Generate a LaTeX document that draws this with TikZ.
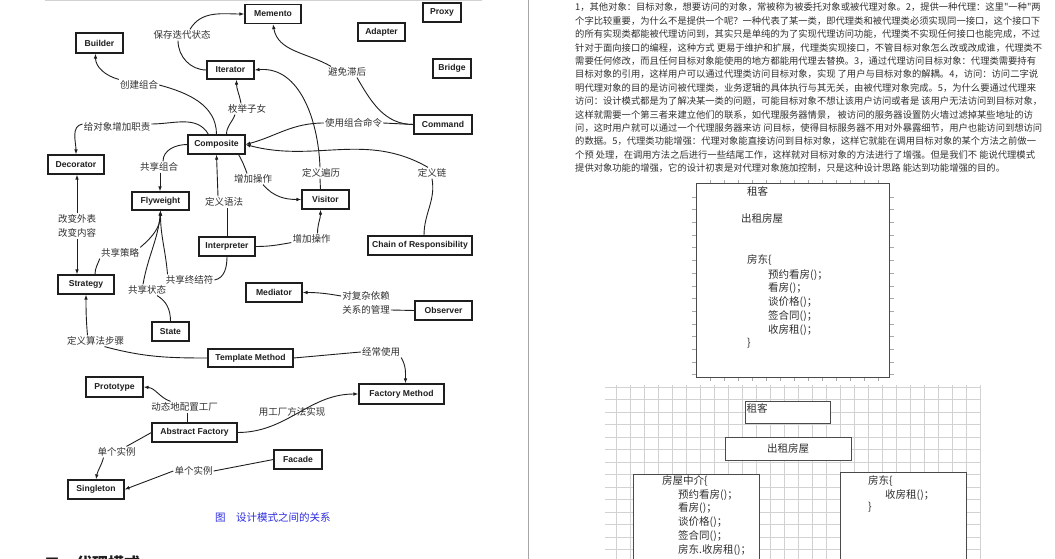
\documentclass[tikz,border=0pt]{standalone}
\usepackage{fontspec}
\setmainfont{Liberation Sans}
\newfontfamily\cjk{Noto Sans CJK SC}
\newfontfamily\boxfont{Liberation Sans}
\usetikzlibrary{arrows.meta}
\definecolor{cink}{HTML}{1E1E1E}
\definecolor{ctext}{HTML}{303030}
\definecolor{cgrid}{HTML}{D2D2D2}
\definecolor{cframe}{HTML}{4A4A4A}
\definecolor{ccap}{HTML}{2B2BE0}
\tikzset{
  every picture/.style={x=1pt, y=1pt},
  pat/.style={draw=cink, line width=1.1pt, fill=white, font=\boxfont\bfseries\fontsize{8.6}{10}\selectfont, text=cink, inner sep=0pt, minimum height=19pt, minimum width=#1},
  pat/.default=56pt,
  lbl/.style={font=\cjk\fontsize{9.5}{11}\selectfont, text=ctext, inner sep=1pt},
  rel/.style={draw=cink, line width=0.9pt},
  arr/.style={rel, -{Latex[length=5pt,width=3.6pt]}},
  para/.style={font=\cjk\fontsize{9.3}{11}\selectfont, text=ctext, anchor=west, inner sep=0pt},
  boxtxt/.style={font=\cjk\fontsize{10.5}{12}\selectfont, text=ctext, anchor=west, inner sep=0pt},
  cell/.style={draw=cframe, line width=0.9pt, fill=white, inner sep=0pt},
  gridln/.style={draw=cgrid, line width=0.8pt},
  tick/.style={draw=cgrid!80!black, line width=0.7pt},
  pageln/.style={draw=gray!70, line width=1pt},
}
\begin{document}
\begin{tikzpicture}
  \useasboundingbox (0,0) rectangle (1055,-559);
  \clip (0,0) rectangle (1055,-559);
  \draw[pageln, draw=gray!35] (45,-1) -- (482,-1);
  \draw[pageln] (528,0) -- (528,-559);

  % pattern boxes
  \node[pat] (memento) at (273,-14) {Memento};
  \node[pat=47pt, minimum height=20pt] (builder) at (99.5,-43) {Builder};
  \node[pat=47pt, minimum height=18pt] (iterator) at (230.5,-70) {Iterator};
  \node[pat=57pt] (composite) at (216.5,-144.5) {Composite};
  \node[pat] (decorator) at (76,-164.5) {Decorator};
  \node[pat=38pt] (proxy) at (442,-12.5) {Proxy};
  \node[pat=47pt, minimum height=18pt] (adapter) at (381.5,-32) {Adapter};
  \node[pat=38pt] (bridge) at (452,-68.5) {Bridge};
  \node[pat=58pt] (command) at (443,-124.5) {Command};
  \node[pat=57pt, minimum height=18pt] (flyweight) at (160.5,-201) {Flyweight};
  \node[pat] (interpreter) at (227,-246.5) {Interpreter};
  \node[pat=47pt] (visitor) at (325.5,-199.5) {Visitor};
  \node[pat=104pt] (chain) at (420,-245.5) {Chain of Responsibility};
  \node[pat] (strategy) at (86,-284.5) {Strategy};
  \node[pat=37pt] (state) at (170.5,-331.5) {State};
  \node[pat] (mediator) at (274,-292.5) {Mediator};
  \node[pat=57pt] (observer) at (443.5,-310.5) {Observer};
  \node[pat=85pt, minimum height=18pt] (template) at (250.5,-358) {Template Method};
  \node[pat=57pt, minimum height=20pt] (prototype) at (114.5,-387) {Prototype};
  \node[pat=85pt, minimum height=20pt] (factmeth) at (401.5,-394) {Factory Method};
  \node[pat=85pt] (absfact) at (194.5,-432.5) {Abstract Factory};
  \node[pat=48pt] (facade) at (298,-459.5) {Facade};
  \node[pat] (singleton) at (96,-489.5) {Singleton};

  % relation labels
  \node[lbl] (lsave) at (182,-35) {保存迭代状态};
  \node[lbl] (lcreate) at (139,-85) {创建组合};
  \node[lbl] (lenum) at (247,-109) {枚举子女};
  \node[lbl] (ldeco) at (117,-127) {给对象增加职责};
  \node[lbl] (lshcomp) at (159,-167) {共享组合};
  \node[lbl] (lavoid) at (347,-72) {避免滞后};
  \node[lbl] (lcmd) at (353.5,-123) {使用组合命令};
  \node[lbl] (ldefvisit) at (321,-173) {定义遍历};
  \node[lbl] (ldefchain) at (432,-173) {定义链};
  \node[lbl] (laddop) at (253,-179) {增加操作};
  \node[lbl] (ldefgram) at (224,-202) {定义语法};
  \node[lbl] (lchgface) at (77,-219) {改变外表};
  \node[lbl] (lchgcont) at (77,-233) {改变内容};
  \node[lbl] (lshstrat) at (120,-253) {共享策略};
  \node[lbl] (lshterm) at (189.5,-280) {共享终结符};
  \node[lbl] (lshstate) at (147,-290) {共享状态};
  \node[lbl] (lalgo) at (95.5,-341) {定义算法步骤};
  \node[lbl] (laddvis) at (311.5,-239) {增加操作};
  \node[lbl] (lmanage1) at (366,-296) {对复杂依赖};
  \node[lbl] (lmanage2) at (366,-310) {关系的管理};
  \node[lbl] (loften) at (381,-352) {经常使用};
  \node[lbl] (ldyn) at (184.5,-407) {动态地配置工厂};
  \node[lbl] (lsingA) at (116.5,-452) {单个实例};
  \node[lbl] (lsingB) at (193.5,-471) {单个实例};

  % relations
  \draw[rel] (iterator.west) to[out=180,in=-90] ([xshift=-4pt]lsave.south);
  \draw[arr] ([xshift=8pt]lsave.north) to[out=60,in=180] (memento.west);
  \draw[rel] (composite.north) to[out=90,in=-15] (lcreate.east);
  \draw[arr] (lcreate.north west) to[out=165,in=-90] ([xshift=-4pt]builder.south);
  \draw[rel] ([xshift=10pt]composite.north) to[out=90,in=-110] ([xshift=-12pt]lenum.south);
  \draw[arr] ([xshift=-6pt]lenum.north) to[out=100,in=-90] ([xshift=6pt]iterator.south);
  \draw[rel] ([xshift=-8pt]composite.north) to[out=120,in=0] ([yshift=3pt]ldeco.east);
  \draw[arr] ([yshift=3pt]ldeco.west) to[out=190,in=90] (decorator.north);
  \draw[rel] (composite.west) to[out=180,in=90] ([xshift=4pt]lshcomp.north);
  \draw[arr] ([xshift=1pt]lshcomp.south) -- ([xshift=-0.5pt]flyweight.north);
  \draw[rel] (command.west) to[out=180,in=-60] ([xshift=10pt]lavoid.south);
  \draw[arr] ([xshift=-16pt]lavoid.north) to[out=150,in=-80] (memento.south);
  \draw[rel] (command.west) -- (lcmd.east);
  \draw[arr] (lcmd.west) to[out=180,in=15] (composite.east);
  \draw[rel] ([xshift=4pt]chain.north) to[out=90,in=-80] (ldefchain.south);
  \draw[arr] ([xshift=-4pt]ldefchain.north) to[out=150,in=-15] (composite.east);
  \draw[rel] ([xshift=-5pt]visitor.north) -- ([xshift=-1pt]ldefvisit.south);
  \draw[arr] ([xshift=-1pt]ldefvisit.north) to[out=92,in=5] (iterator.east);
  \draw[rel] ([xshift=-7pt]composite.south east) to[out=-60,in=110] ([xshift=-6pt]laddop.north);
  \draw[arr] ([xshift=10pt]laddop.south) to[out=-50,in=180] (visitor.west);
  \draw[rel] (interpreter.east) to[out=0,in=190] ([yshift=2pt]laddvis.south west);
  \draw[arr] ([xshift=6pt]laddvis.north) to[out=90,in=-90] ([xshift=-5pt]visitor.south);
  \draw[rel] (interpreter.north) -- ([xshift=3pt]ldefgram.south);
  \draw[arr] ([xshift=-6pt]ldefgram.north) -- (composite.south);
  \draw[rel] (interpreter.south) to[out=-90,in=10] (lshterm.east);
  \draw[arr] ([xshift=3pt]lshterm.north west) to[out=95,in=-90] (flyweight.south);
  \draw[rel] ([xshift=9pt]strategy.north) to[out=90,in=-110] (lshstrat.south west);
  \draw[arr] (lshstrat.north east) to[out=40,in=-90] (flyweight.south);
  \draw[rel] (state.north) to[out=90,in=-30] ([xshift=10pt]lshstate.south);
  \draw[arr] ([xshift=-4pt]lshstate.north) to[out=80,in=-95] (flyweight.south);
  \draw[arr] (lchgface.north) -- (lchgface.north |- decorator.south);
  \draw[arr] (lchgcont.south) -- (lchgcont.south |- strategy.north);
  \draw[rel] (template.west) to[out=180,in=-15] ([xshift=9pt]lalgo.south);
  \draw[arr] ([xshift=-8pt]lalgo.north) to[out=95,in=-90] (strategy.south);
  \draw[rel] (observer.west) -- (lmanage2.east);
  \draw[arr] (lmanage1.west) to[out=170,in=0] (mediator.east);
  \draw[rel] (template.east) to[out=5,in=185] (loften.west);
  \draw[arr] (loften.south east) to[out=-60,in=90] ([xshift=4pt]factmeth.north);
  \draw[arr] (absfact.east) to[out=0,in=180] (factmeth.west);
  \draw[rel] ([xshift=-7pt]absfact.north) -- ([xshift=3pt]ldyn.south);
  \draw[arr] ([xshift=-14pt]ldyn.north) to[out=160,in=-5] (prototype.east);
  \draw[rel] (absfact.west) -- ([xshift=10pt]lsingA.north);
  \draw[arr] ([xshift=-13pt]lsingA.south) to[out=-105,in=80] (singleton.north);
  \draw[rel] (facade.west) -- (lsingB.east);
  \draw[arr] (lsingB.west) -- (singleton.east);
  \node[lbl] (lfmimpl) at (292,-412) {用工厂方法实现};

  \node[font=\cjk\fontsize{10.5}{12}\selectfont, text=ccap, anchor=west, inner sep=0pt] (caption) at (215,-517) {图　设计模式之间的关系};
  \node[font=\cjk\bfseries\fontsize{16}{16}\selectfont, text=cink, anchor=north west, inner sep=0pt] (sechead) at (44,-556) {二　代理模式};

  % right page text
  \foreach \ln [count=\i from 0] in {
    {1，其他对象：目标对象，想要访问的对象，常被称为被委托对象或被代理对象。2，提供一种代理：这里"一种"两},
    {个字比较重要，为什么不是提供一个呢？一种代表了某一类，即代理类和被代理类必须实现同一接口，这个接口下},
    {的所有实现类都能被代理访问到，其实只是单纯的为了实现代理访问功能，代理类不实现任何接口也能完成，不过},
    {针对于面向接口的编程，这种方式 更易于维护和扩展，代理类实现接口，不管目标对象怎么改或改成谁，代理类不},
    {需要任何修改，而且任何目标对象能使用的地方都能用代理去替换。3，通过代理访问目标对象：代理类需要持有},
    {目标对象的引用，这样用户可以通过代理类访问目标对象，实现 了用户与目标对象的解耦。4，访问：访问二字说},
    {明代理对象的目的是访问被代理类，业务逻辑的具体执行与其无关，由被代理对象完成。5，为什么要通过代理来},
    {访问：设计模式都是为了解决某一类的问题，可能目标对象不想让该用户访问或者是 该用户无法访问到目标对象，},
    {这样就需要一个第三者来建立他们的联系，如代理服务器情景， 被访问的服务器设置防火墙过滤掉某些地址的访},
    {问，这时用户就可以通过一个代理服务器来访 问目标，使得目标服务器不用对外暴露细节，用户也能访问到想访问},
    {的数据。5，代理类功能增强：代理对象能直接访问到目标对象，这样它就能在调用目标对象的某个方法之前做一},
    {个预 处理，在调用方法之后进行一些结尾工作，这样就对目标对象的方法进行了增强。但是我们不 能说代理模式},
    {提供对象功能的增强，它的设计初衷是对代理对象施加控制，只是这种设计思路 能达到功能增强的目的。}}
    \node[para] (par\i) at (575,{-7.5-13.4*\i}) {\ln};

  % grid
  \foreach \k in {0,...,26}
    \draw[gridln] (616+14*\k,-385) -- (616+14*\k,-559);
  \foreach \k in {0,...,13}
    \draw[gridln] (605,{-387-12.5*\k}) -- (981,{-387-12.5*\k});
  \foreach \k in {0,...,12} {
    \draw[tick] (710+14*\k,-180) -- (710+14*\k,-183);
    \draw[tick] (710+14*\k,-377) -- (710+14*\k,-381);
  }
  \foreach \k in {0,...,14} {
    \draw[tick] (692,{-197-12.7*\k}) -- (696,{-197-12.7*\k});
    \draw[tick] (889,{-197-12.7*\k}) -- (894,{-197-12.7*\k});
  }

  % first sketch
  \node[cell, anchor=north west, minimum width=193pt, minimum height=194pt] (story) at (696,-183) {};
  \node[boxtxt] (s1) at (747,-191) {租客};
  \node[boxtxt] (s2) at (741,-219) {出租房屋};
  \node[boxtxt] (s3) at (747,-260) {房东\{};
  \node[boxtxt] (s4) at (768,-275) {预约看房()；};
  \node[boxtxt] (s5) at (768,-288.5) {看房()；};
  \node[boxtxt] (s6) at (768,-302) {谈价格()；};
  \node[boxtxt] (s7) at (768,-316) {签合同()；};
  \node[boxtxt] (s8) at (768,-330) {收房租()；};
  \node[boxtxt] (s9) at (747,-343) {\}};

  % second sketch
  \node[cell, anchor=north west, minimum width=85pt, minimum height=22pt] (renter) at (745,-401) {};
  \node[boxtxt, anchor=north west] (rentertxt) at ([shift={(1.5pt,-2pt)}]renter.north west) {租客};
  \node[cell, minimum width=126pt, minimum height=23pt, font=\cjk\fontsize{10.5}{12}\selectfont, text=ctext] (house) at (788,-448.5) {出租房屋};
  \node[cell, anchor=north west, minimum width=126pt, minimum height=120pt] (agent) at (633,-474) {};
  \node[boxtxt] (a1) at (662,-481) {房屋中介\{};
  \node[boxtxt] (a2) at (678,-495) {预约看房()；};
  \node[boxtxt] (a3) at (678,-508.5) {看房()；};
  \node[boxtxt] (a4) at (678,-522.5) {谈价格()；};
  \node[boxtxt] (a5) at (678,-536) {签合同()；};
  \node[boxtxt] (a6) at (678,-550) {房东.收房租()；};
  \node[cell, anchor=north west, minimum width=126pt, minimum height=120pt] (owner) at (840,-472) {};
  \node[boxtxt] (o1) at (868,-481) {房东\{};
  \node[boxtxt] (o2) at (885,-495) {收房租()；};
  \node[boxtxt] (o3) at (868,-507) {\}};
\end{tikzpicture}
\end{document}
